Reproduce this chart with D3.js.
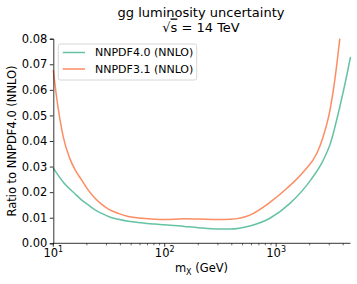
<!DOCTYPE html>
<html>
<head>
<meta charset="utf-8">
<script src="https://cdn.jsdelivr.net/npm/d3@7"></script>
<style>
body { margin: 0; background: #fff; }
text { font-family: "DejaVu Sans", sans-serif; fill: #000; }
</style>
</head>
<body>
<script>
// data
var seriesNames = ["NNPDF4.0 (NNLO)", "NNPDF3.1 (NNLO)"];
var seriesColors = ["#66c2a5", "#fc8d62"];

var massNew = [10, 12.2, 15.7, 18, 20.6, 23.7, 27.2, 31.2, 38.3, 47, 62, 82, 100, 150, 200, 300, 390, 580, 880, 1330, 2040, 2650, 3040, 3730, 4340, 4650];
var lumiNew = [0.0294, 0.0241, 0.0193, 0.0169, 0.0150, 0.0131, 0.0117, 0.0105, 0.0094, 0.0086, 0.0080, 0.0075, 0.0073, 0.0066, 0.0061, 0.0056, 0.0056, 0.0068, 0.0098, 0.0156, 0.0247, 0.0325, 0.0385, 0.0534, 0.0664, 0.0729];

var massOld = [10, 10.7, 11.5, 12.3, 14, 15.7, 18, 20.6, 23.7, 27.2, 31.2, 38.3, 47, 62, 82, 100, 150, 200, 300, 390, 580, 880, 1250, 1760, 2320, 2640, 3040, 3360, 3730];
var lumiOld = [0.0677, 0.0572, 0.0482, 0.0415, 0.0334, 0.0287, 0.0247, 0.0208, 0.0176, 0.0152, 0.0134, 0.0117, 0.0105, 0.0098, 0.0094, 0.0093, 0.0096, 0.0095, 0.0093, 0.0094, 0.0110, 0.0160, 0.0215, 0.0280, 0.0352, 0.0416, 0.0520, 0.0638, 0.0800];

var yTicks = [0, 0.01, 0.02, 0.03, 0.04, 0.05, 0.06, 0.07, 0.08];
var xMajor = [10, 100, 1000];
var xMinor = [20, 30, 40, 50, 60, 70, 80, 90, 200, 300, 400, 500, 600, 700, 800, 900, 2000, 3000, 4000];

var w = 357;
var h = 284;

var svg = d3.select("body")
			.append("svg")
			.attr("width", w)
			.attr("height", h);

var x = d3.scaleLog().domain([10, 4650]).range([53.3, 350.5]);
var y = d3.scaleLinear().domain([0, 0.08]).range([243.3, 38.7]);

// title
svg.append("text")
	.attr("x", 201)
	.attr("y", 17)
	.attr("text-anchor", "middle")
	.attr("font-size", "13px")
	.text("gg luminosity uncertainty");
var t2 = svg.append("text")
	.attr("x", 201)
	.attr("y", 31.5)
	.attr("text-anchor", "middle")
	.attr("font-size", "13px");
t2.append("tspan").text("\u221A");
t2.append("tspan").style("text-decoration", "overline").text("s");
t2.append("tspan").text(" = 14 TeV");

// curves
var line = d3.line()
	.x(function(d) { return x(d[0]); })
	.y(function(d) { return y(d[1]); })
	.curve(d3.curveMonotoneX);

var series = [d3.zip(massNew, lumiNew), d3.zip(massOld, lumiOld)];
svg.selectAll("path.curve")
	.data(series)
	.enter()
	.append("path")
	.attr("class", "curve")
	.attr("d", line)
	.attr("fill", "none")
	.attr("stroke", function(d, i) { return seriesColors[i]; })
	.attr("stroke-width", 1.5);

// y axis
var yAxis = svg.append("g")
	.attr("transform", "translate(53.3,0)")
	.call(d3.axisLeft(y).tickValues(yTicks).tickFormat(d3.format(".2f")).tickSize(3.5).tickPadding(2.5));
yAxis.selectAll("text").attr("font-size", "11.5px").attr("font-family", "DejaVu Sans");
yAxis.select(".domain").attr("stroke-width", 0.8);
yAxis.selectAll(".tick line").attr("stroke-width", 0.8);

// x axis
var xAxis = svg.append("g")
	.attr("transform", "translate(0,243.3)");
xAxis.append("line")
	.attr("x1", x.range()[0])
	.attr("x2", x.range()[1])
	.attr("stroke", "#000")
	.attr("stroke-width", 0.8);
xAxis.selectAll("line.major")
	.data(xMajor)
	.enter()
	.append("line")
	.attr("class", "major")
	.attr("x1", function(d) { return x(d); })
	.attr("x2", function(d) { return x(d); })
	.attr("y1", 0)
	.attr("y2", 3.5)
	.attr("stroke", "#000")
	.attr("stroke-width", 0.8);
xAxis.selectAll("line.minor")
	.data(xMinor)
	.enter()
	.append("line")
	.attr("class", "minor")
	.attr("x1", function(d) { return x(d); })
	.attr("x2", function(d) { return x(d); })
	.attr("y1", 0)
	.attr("y2", 2)
	.attr("stroke", "#000")
	.attr("stroke-width", 0.6);
var xl = xAxis.selectAll("text.major")
	.data(xMajor)
	.enter()
	.append("text")
	.attr("class", "major")
	.attr("x", function(d) { return x(d); })
	.attr("y", 13.3)
	.attr("text-anchor", "middle")
	.attr("font-size", "11.5px");
xl.append("tspan").text("10");
xl.append("tspan")
	.attr("dy", -4.5)
	.attr("font-size", "8px")
	.text(function(d) { return Math.round(Math.log10(d)); });

// axis labels
var xlab = svg.append("text")
	.attr("x", 201.5)
	.attr("y", 272)
	.attr("text-anchor", "middle")
	.attr("font-size", "11.5px");
xlab.append("tspan").text("m");
xlab.append("tspan").attr("dy", 2.5).attr("font-size", "8px").text("X");
xlab.append("tspan").attr("dy", -2.5).text(" (GeV)");

svg.append("text")
	.attr("transform", "translate(16,141) rotate(-90)")
	.attr("text-anchor", "middle")
	.attr("font-size", "11.5px")
	.text("Ratio to NNPDF4.0 (NNLO)");

// legend
var leg = svg.append("g");
leg.append("rect")
	.attr("x", 58.3)
	.attr("y", 44)
	.attr("width", 138.4)
	.attr("height", 36)
	.attr("rx", 2)
	.attr("fill", "#fff")
	.attr("fill-opacity", 0.8)
	.attr("stroke", "#ccc")
	.attr("stroke-width", 0.8);
var rows = leg.selectAll("g.row")
	.data(seriesNames)
	.enter()
	.append("g")
	.attr("class", "row")
	.attr("transform", function(d, i) { return "translate(0," + (52.5 + i * 16.5) + ")"; });
rows.append("line")
	.attr("x1", 62.7)
	.attr("x2", 85)
	.attr("stroke", function(d, i) { return seriesColors[i]; })
	.attr("stroke-width", 1.5);
rows.append("text")
	.attr("x", 95)
	.attr("dy", "0.36em")
	.attr("font-size", "11px")
	.text(function(d) { return d; });
</script>
</body>
</html>
